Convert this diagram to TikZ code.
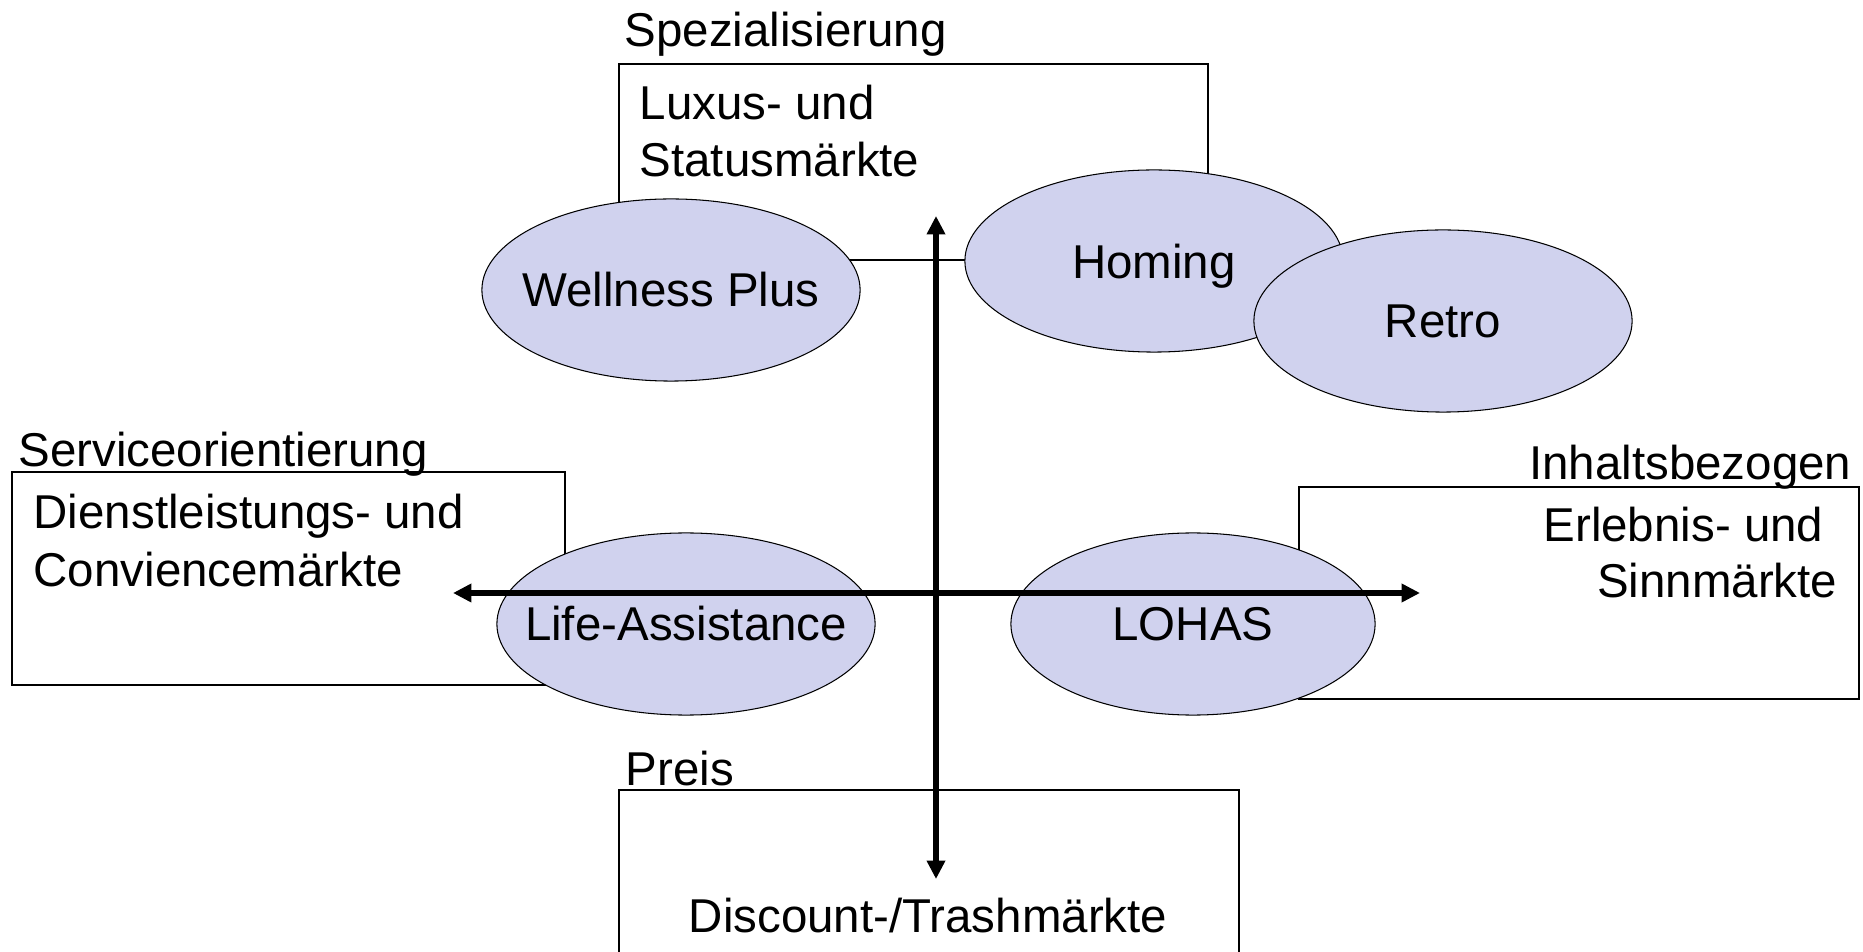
\documentclass[tikz,border=0pt]{standalone}
\usepackage{fontspec}
\setmainfont{Liberation Sans}
\usetikzlibrary{shapes.geometric,arrows.meta}
\definecolor{lavender}{RGB}{208,210,238}

\begin{document}
\begin{tikzpicture}[x=0.01cm, y=-0.01cm, font=\fontsize{13.5}{16.2}\selectfont]
  \tikzstyle{market} = [rectangle, draw, line width = 0.5pt, inner sep = 0pt]
  \tikzstyle{blob} = [ellipse, draw, fill = lavender, line width = 0.3pt, inner sep = 0pt, minimum width = 37.8mm, minimum height = 18.2mm]
  \tikzstyle{caption} = [inner sep = 0pt]
  \tikzstyle{axis} = [{Triangle[length = 5.2pt, width = 5pt]}-{Triangle[length = 5.2pt, width = 5pt]}, line width = 1.7pt]

  \useasboundingbox (0,0) rectangle (1863,952);

  % quadrant boxes
  \node [market, minimum width = 58.9mm, minimum height = 19.6mm] at (913.5,162) (luxus) {};
  \node [market, minimum width = 55.3mm, minimum height = 21.3mm] at (288.5,578.5) (service) {};
  \node [market, minimum width = 56mm, minimum height = 21.2mm] at (1579,593) (erlebnis) {};
  \node [market, minimum width = 62mm, minimum height = 17mm] at (929,875) (discount) {};

  \node [caption, anchor = base west] at (624,47) (spez_label) {Spezialisierung};
  \node [caption, anchor = base west] at (18,467) (service_label) {Serviceorientierung};
  \node [caption, anchor = base east] at (1852,480) (inhalt_label) {Inhaltsbezogen};
  \node [caption, anchor = base west] at (625,785) (preis_label) {Preis};

  \node [caption, anchor = base west] at (639,120) (luxus_a) {Luxus- und};
  \node [caption, anchor = base west] at (639,177) (luxus_b) {Statusmärkte};
  \node [caption, anchor = base west] at (33,528) (service_a) {Dienstleistungs- und};
  \node [caption, anchor = base west] at (33,587) (service_b) {Conviencemärkte};
  \node [caption, anchor = base east] at (1824,542) (erlebnis_a) {Erlebnis- und};
  \node [caption, anchor = base east] at (1838,598) (erlebnis_b) {Sinnmärkte};
  \node [caption, anchor = base] at (928,932) (discount_a) {Discount-/Trashmärkte};

  % trends
  \node [blob, label = center:Wellness Plus] at (671,290) (wellness) {};
  \node [blob, label = {[yshift = -1.4pt]center:Homing}] at (1154,261) (homing) {};
  \node [blob, label = center:Retro] at (1443,321) (retro) {};
  \node [blob, label = center:Life-Assistance] at (686,624) (life) {};
  \node [blob, minimum width = 36.4mm, label = center:LOHAS] at (1193,624) (lohas) {};

  % axes
  \coordinate (axis_top) at (936,216);
  \coordinate (axis_bottom) at (936,879);
  \coordinate (axis_left) at (453,593);
  \coordinate (axis_right) at (1420,593);
  \draw [axis] (axis_bottom) -- (axis_top);
  \draw [axis] (axis_left) -- (axis_right);
\end{tikzpicture}
\end{document}
